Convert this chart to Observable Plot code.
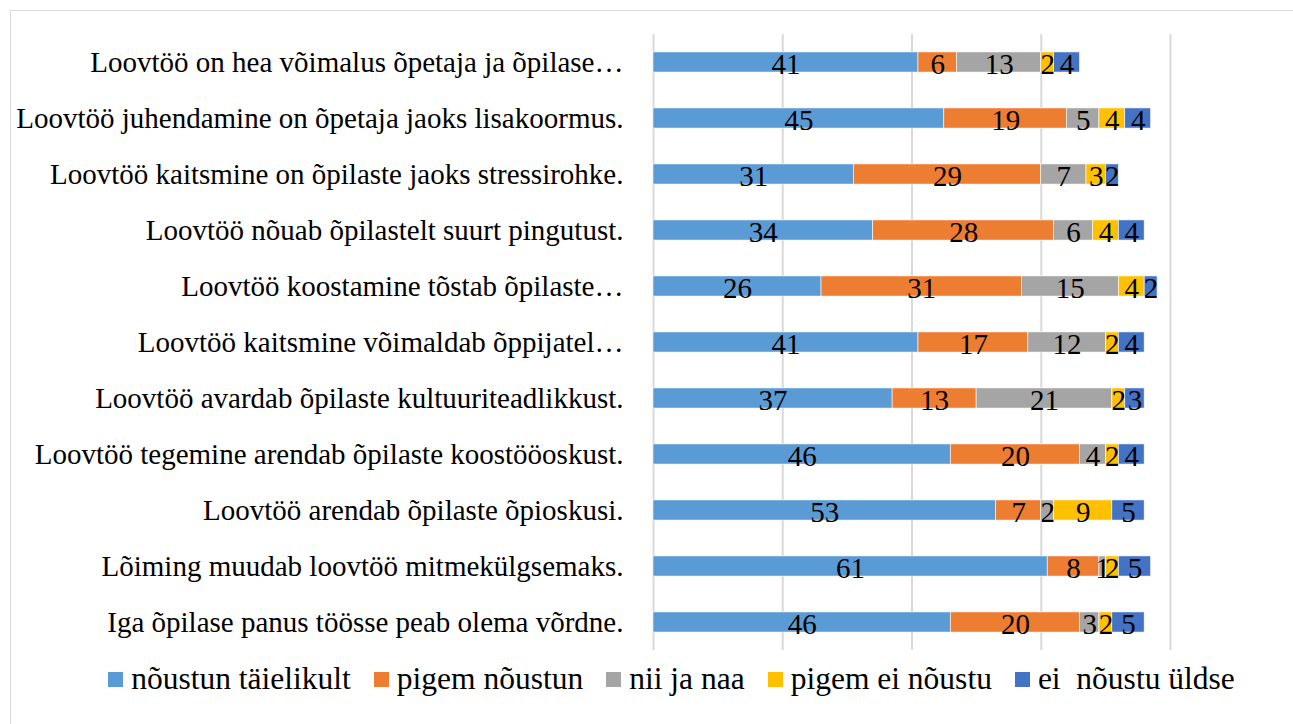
<!DOCTYPE html>
<html>
<head>
<meta charset="utf-8">
<script src="https://cdn.jsdelivr.net/npm/d3@7"></script>
<script src="https://cdn.jsdelivr.net/npm/@observablehq/plot@0.6"></script>
<style>
  html, body { margin: 0; padding: 0; background: #fff; }
  #wrap { position: relative; width: 1293px; height: 724px; overflow: hidden; font-family: "Liberation Serif", "Times New Roman", serif; }
  #frame { position: absolute; left: 10px; top: 10px; width: 1300px; height: 740px; border: 1px solid #d9d9d9; box-sizing: border-box; }
  #chart { position: absolute; left: 0; top: 0; }
  #legend { position: absolute; left: 25px; top: 660px; width: 1293px; display: flex; justify-content: center; align-items: center; gap: 23px; font-size: 31.5px; line-height: 38px; color: #000; }
  #legend .item { display: flex; align-items: center; gap: 8px; white-space: pre; }
  #legend .sw { width: 15px; height: 15px; display: inline-block; }
</style>
</head>
<body>
<div id="wrap">
  <div id="frame"></div>
  <div id="chart"></div>
  <div id="legend"></div>
</div>
<script>
const statements = [
  "Loovtöö on hea võimalus õpetaja ja õpilase…",
  "Loovtöö juhendamine on õpetaja jaoks lisakoormus.",
  "Loovtöö kaitsmine on õpilaste jaoks stressirohke.",
  "Loovtöö nõuab õpilastelt suurt pingutust.",
  "Loovtöö koostamine tõstab õpilaste…",
  "Loovtöö kaitsmine võimaldab õppijatel…",
  "Loovtöö avardab õpilaste kultuuriteadlikkust.",
  "Loovtöö tegemine arendab õpilaste koostööoskust.",
  "Loovtöö arendab õpilaste õpioskusi.",
  "Lõiming muudab loovtöö mitmekülgsemaks.",
  "Iga õpilase panus töösse peab olema võrdne."
];
const categories = ["nõustun täielikult", "pigem nõustun", "nii ja naa", "pigem ei nõustu", "ei  nõustu üldse"];
const colors = ["#5B9BD5", "#ED7D31", "#A5A5A5", "#FFC000", "#4472C4"];

const fullyAgree     = [41, 45, 31, 34, 26, 41, 37, 46, 53, 61, 46];
const ratherAgree    = [ 6, 19, 29, 28, 31, 17, 13, 20,  7,  8, 20];
const neutral        = [13,  5,  7,  6, 15, 12, 21,  4,  2,  1,  3];
const ratherDisagree = [ 2,  4,  3,  4,  4,  2,  2,  2,  9,  2,  2];
const fullyDisagree  = [ 4,  4,  2,  4,  2,  4,  3,  4,  5,  5,  5];
const xTicks = [0, 20, 40, 60, 80];

const series = [fullyAgree, ratherAgree, neutral, ratherDisagree, fullyDisagree];
const data = [];
series.forEach((vals, ci) => {
  vals.forEach((v, si) => data.push({statement: statements[si], category: categories[ci], value: v}));
});

const chart = Plot.plot({
  width: 1293,
  height: 656,
  marginLeft: 653,
  marginRight: 123,
  marginTop: 34,
  marginBottom: 6,
  style: { fontFamily: "'Liberation Serif', 'Times New Roman', serif", fontSize: "29px", color: "#000", background: "transparent" },
  x: { domain: [0, 80], axis: null },
  y: { domain: statements, paddingInner: 0.64, paddingOuter: 0.32, round: false, label: null },
  color: { domain: categories, range: colors },
  marks: [
    Plot.ruleX(xTicks, { stroke: "#d9d9d9", strokeWidth: 2 }),
    Plot.barX(data, Plot.stackX({ y: "statement", x: "value", fill: "category", z: "category", order: categories, stroke: "#fff", strokeWidth: 0.6 })),
    Plot.text(data, Plot.stackX({ y: "statement", x: "value", z: "category", order: categories, text: "value", fill: "#000", fontSize: 29, dy: 2 })),
    Plot.axisY({ tickSize: 0, tickPadding: 30, fontSize: 29, label: null })
  ]
});
document.getElementById("chart").appendChild(chart);

const legend = document.getElementById("legend");
categories.forEach((c, i) => {
  const it = document.createElement("div");
  it.className = "item";
  const sw = document.createElement("span");
  sw.className = "sw";
  sw.style.background = colors[i];
  const tx = document.createElement("span");
  tx.textContent = c;
  it.appendChild(sw);
  it.appendChild(tx);
  legend.appendChild(it);
});
</script>
</body>
</html>
